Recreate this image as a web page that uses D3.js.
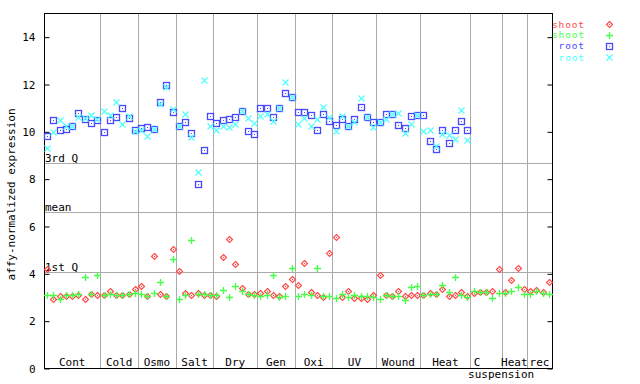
<!DOCTYPE html>
<html><head><meta charset="utf-8">
<script src="https://cdn.jsdelivr.net/npm/d3@7"></script>
<style>
body{margin:0;background:#fff;}
text{font-family:"DejaVu Sans Mono",monospace;font-size:11px;}
</style></head>
<body><svg id="c" width="640" height="384"></svg>
<script>
const groups = ["Cont","Cold","Osmo","Salt","Dry","Gen","Oxi","UV","Wound","Heat","C suspension","Heat","rec"];
const groupSizes = [9,6,6,6,7,6,6,7,7,8,5,4,4];
const yTicks = [0,2,4,6,8,10,12,14];
const refLines = [{label:"3rd Q", value:8.66},{label:"mean", value:6.59},{label:"1st Q", value:4.05}];
const seriesNames = ["shoot","shoot","root","root"];

const shootRed = [4.17,2.91,3.03,3.03,3.03,3.08,2.91,3.12,3.08,3.08,3.24,3.08,3.08,3.12,3.33,3.46,3.03,4.72,3.12,3.03,5.02,4.09,3.16,3.08,3.16,3.08,3.08,3.03,4.68,5.44,4.39,3.37,3.12,3.12,3.16,3.24,3.08,3.03,3.46,3.75,3.50,4.43,3.20,3.08,2.99,4.85,5.53,2.99,3.24,2.95,2.95,2.91,3.08,3.92,3.08,3.03,3.24,3.03,3.08,3.08,3.08,3.16,3.12,3.33,3.03,3.08,3.20,3.03,3.16,3.20,3.20,3.24,4.17,3.20,3.71,4.22,3.33,3.24,3.29,3.20,3.63];
const shootGreen = [3.08,3.08,2.91,3.08,3.08,3.12,3.84,3.12,3.92,3.08,3.12,3.08,3.08,3.12,3.16,3.12,3.03,3.16,3.63,3.03,4.60,2.91,3.08,5.40,3.12,3.12,3.08,3.08,3.29,2.99,3.46,3.24,3.12,3.08,3.03,3.08,3.92,2.99,3.03,4.22,3.03,3.12,3.08,4.22,3.03,3.03,2.95,3.12,2.99,3.08,3.03,3.03,2.99,2.91,3.08,3.03,3.03,2.86,3.41,3.46,3.08,3.12,3.12,3.50,3.20,3.84,3.08,2.99,3.24,3.20,3.20,2.95,3.16,3.16,3.24,3.41,3.12,3.12,3.24,3.16,3.12];
const rootBlue = [9.80,10.48,10.05,10.10,10.22,10.77,10.53,10.35,10.49,9.97,10.48,10.60,10.99,10.56,10.05,10.14,10.18,10.10,11.24,11.96,10.82,10.21,10.39,9.93,7.77,9.22,10.65,10.35,10.48,10.52,10.60,10.86,10.01,9.89,10.99,10.99,10.60,10.99,11.62,11.43,10.82,10.82,10.69,10.05,10.73,10.44,10.27,10.52,10.21,10.52,11.03,10.60,10.39,10.39,10.73,10.73,10.27,10.14,10.65,10.69,10.69,9.59,9.25,10.05,9.50,10.05,10.44,10.05];
const rootCyan = [9.29,9.97,10.48,10.22,10.22,10.60,10.56,10.69,10.52,10.86,10.69,11.24,10.31,10.65,10.01,10.05,9.80,10.10,11.15,11.87,10.94,10.22,10.73,9.76,8.28,12.17,10.22,10.05,10.22,10.18,10.31,10.86,10.56,10.35,10.65,10.73,10.44,10.99,12.09,11.43,10.31,10.56,10.22,10.52,11.03,10.60,10.01,10.65,10.21,10.39,11.41,10.60,10.18,10.39,10.52,10.73,10.77,9.93,10.31,10.69,10.01,10.05,9.38,9.89,9.84,9.67,10.90,9.63];

const colors = ["#ff4848","#48ff48","#4848ff","#48ffff"];
const shapes = ["diamond","plus","square","cross"];
const series = [shootRed, shootGreen, rootBlue, rootCyan];

const svg = d3.select("#c");
const L=44, R=552, T=13, B=368;
const N = d3.sum(groupSizes);
const x = d3.scaleBand().domain(d3.range(N)).range([L,R]);
const y = d3.scaleLinear().domain([0,15]).range([B,T]);
const cx = i => Math.round(x(i)+x.bandwidth()/2)+0.5;
const cy = v => Math.round(y(v))+0.5;

// group separators
let starts=[]; let acc=0; groupSizes.forEach(s=>{starts.push(acc); acc+=s;});
svg.append("g").selectAll("line").data(starts.slice(1)).join("line")
  .attr("x1",d=>Math.round(x(d))+0.5).attr("x2",d=>Math.round(x(d))+0.5)
  .attr("y1",T).attr("y2",B).attr("stroke","#aaaaaa").attr("stroke-width",1);
// reference lines
svg.append("g").selectAll("line").data(refLines).join("line")
  .attr("x1",L).attr("x2",R).attr("y1",d=>cy(d.value)).attr("y2",d=>cy(d.value))
  .attr("stroke","#aaaaaa").attr("stroke-width",1);
svg.append("g").selectAll("text").data(refLines).join("text")
  .attr("x",L+1).attr("y",d=>cy(d.value)-2).attr("fill","#000").text(d=>d.label);

// frame
svg.append("rect").attr("x",L+0.5).attr("y",T+0.5).attr("width",R-L).attr("height",B-T)
  .attr("fill","none").attr("stroke","#000").attr("stroke-width",1);

// y axes
const yAxisL = d3.axisLeft(y).tickValues(yTicks).tickSizeInner(-5).tickSizeOuter(0).tickPadding(9).tickFormat(d3.format("d"));
const gl = svg.append("g").attr("transform",`translate(${L+0.5},0.5)`).call(yAxisL);
gl.select(".domain").remove();
gl.selectAll("text").style("font-family","DejaVu Sans Mono").style("font-size","11px");
const yAxisR = d3.axisRight(y).tickValues(yTicks).tickSizeInner(-5).tickSizeOuter(0).tickFormat("");
const gr = svg.append("g").attr("transform",`translate(${R+0.5},0.5)`).call(yAxisR);
gr.select(".domain").remove();

svg.append("text").attr("transform",`translate(15,${(T+B)/2+4}) rotate(-90)`)
  .attr("text-anchor","middle").text("affy-normalized expression");

// group labels
const labelOffsets = {10:[-9,15]};
groups.forEach((g,k)=>{
  const a = x(starts[k]), b = x(starts[k]+groupSizes[k]-1)+x.bandwidth();
  const c = (a+b)/2;
  const parts = g.split(" ");
  if(parts.length>1 && g==="C suspension"){
    const off = labelOffsets[k];
    svg.append("text").attr("x",c+off[0]).attr("y",366).attr("text-anchor","middle").text(parts[0]);
    svg.append("text").attr("x",c+off[1]).attr("y",378).attr("text-anchor","middle").text(parts[1]);
  } else {
    svg.append("text").attr("x",c).attr("y",366).attr("text-anchor","middle").text(g);
  }
});

function marker(sel, shape, color){
  if(shape==="diamond"){
    sel.append("path").attr("d","M0,-3L3,0L0,3L-3,0Z").attr("fill","none").attr("stroke",color).attr("stroke-width",1.2);
    sel.append("rect").attr("x",-0.5).attr("y",-0.5).attr("width",1).attr("height",1).attr("fill",color);
  } else if(shape==="plus"){
    sel.append("path").attr("d","M-3.5,0H3.5M0,-3.5V3.5").attr("stroke",color).attr("stroke-width",1.3);
  } else if(shape==="square"){
    sel.append("rect").attr("x",-3).attr("y",-3).attr("width",6).attr("height",6).attr("fill","none").attr("stroke",color).attr("stroke-width",1.3);
    sel.append("rect").attr("x",-0.5).attr("y",-0.5).attr("width",1).attr("height",1).attr("fill",color);
  } else {
    sel.append("path").attr("d","M-3,-3L3,3M-3,3L3,-3").attr("stroke",color).attr("stroke-width",1.1);
  }
}

series.forEach((vals,s)=>{
  const g = svg.append("g");
  vals.forEach((v,i)=>{
    const m = g.append("g").attr("transform",`translate(${cx(i)},${cy(v)})`);
    marker(m, shapes[s], colors[s]);
  });
});

// legend
seriesNames.forEach((n,s)=>{
  const ly = [24,34.5,45.5,57][s];
  svg.append("text").attr("x",585).attr("y",ly+3.5).attr("text-anchor","end").attr("fill",colors[s])
    .style("font-size","9.5px").style("letter-spacing","0.9px").text(n);
  const m = svg.append("g").attr("transform",`translate(609.5,${Math.round(ly)+0.5})`);
  marker(m, shapes[s], colors[s]);
});
</script></body></html>
